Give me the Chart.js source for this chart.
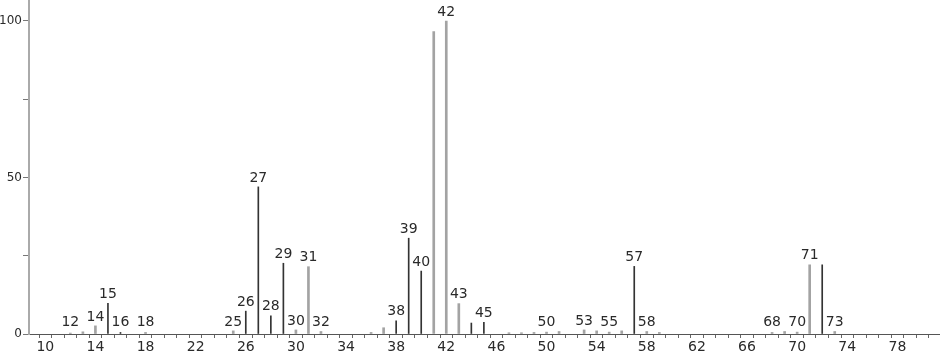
<!DOCTYPE html>
<html>
<head>
<meta charset="utf-8">
<script src="https://cdn.jsdelivr.net/npm/chart.js@4"></script>
<style>
  html, body { margin: 0; padding: 0; background: #fff; }
  #wrap { width: 940px; height: 356px; }
</style>
</head>
<body>
<div id="wrap"><canvas id="spectrum"></canvas></div>
<script>
// m/z and relative intensity, thin dark lines
const darkMz = [15, 16, 26, 27, 28, 29, 38, 39, 40, 44, 45, 57, 72];
const darkInt = [9.8, 0.5, 7.3, 47, 5.8, 22.6, 4.2, 30.6, 20.1, 3.5, 3.7, 21.6, 22.1];

// m/z and relative intensity, thick grey lines
const greyMz = [12, 13, 14, 18, 25, 30, 31, 32, 36, 37, 41, 42, 43, 47, 48, 49, 50, 51, 53, 54, 55, 56, 58, 59, 68, 69, 70, 71, 73];
const greyInt = [0.3, 0.7, 2.6, 0.5, 1.0, 1.3, 21.5, 0.8, 0.5, 2.0, 96.6, 100, 9.7, 0.4, 0.4, 0.5, 0.6, 0.8, 1.3, 1.0, 0.6, 1.0, 0.8, 0.5, 0.5, 0.8, 0.6, 22.1, 0.8];

// peaks that carry an m/z label
const labelledMz = [12, 14, 15, 16, 18, 25, 26, 27, 28, 29, 30, 31, 32, 38, 39, 40, 42, 43, 45, 50, 53, 55, 57, 58, 68, 70, 71, 73];

const yTicks = [0, 25, 50, 75, 100];
const yLabels = [0, 50, 100];
const xLabels = [10, 14, 18, 22, 26, 30, 34, 38, 42, 46, 50, 54, 58, 62, 66, 70, 74, 78];

const FONT = 'DejaVu Sans';

function toPoints(mz, vals) {
    return mz.map((m, i) => ({ x: m, y: vals[i] }));
}

function intensityAt(m) {
    let v = 0;
    darkMz.forEach((d, i) => { if (d === m) v = Math.max(v, darkInt[i]); });
    greyMz.forEach((g, i) => { if (g === m) v = Math.max(v, greyInt[i]); });
    return v;
}

const peakLabels = {
    id: 'peakLabels',
    afterDatasetsDraw(chart) {
        const ctx = chart.ctx;
        const xs = chart.scales.x, ys = chart.scales.y;
        ctx.save();
        ctx.font = '14px "' + FONT + '"';
        ctx.fillStyle = '#2a2a2a';
        ctx.textAlign = 'center';
        ctx.textBaseline = 'bottom';
        labelledMz.forEach(m => {
            const px = xs.getPixelForValue(m);
            const py = ys.getPixelForValue(intensityAt(m));
            ctx.fillText(String(m), px, Math.min(py, ys.getPixelForValue(0) - 3) - 2);
        });
        ctx.restore();
    }
};

const ctx = document.getElementById('spectrum').getContext('2d');
new Chart(ctx, {
    type: 'bar',
    data: {
        datasets: [{
            data: toPoints(greyMz, greyInt),
            backgroundColor: '#a3a3a3',
            barThickness: 2,
            grouped: false
        }, {
            data: toPoints(darkMz, darkInt),
            backgroundColor: '#333',
            barThickness: 1,
            grouped: false
        }]
    },
    options: {
        responsive: true,
        maintainAspectRatio: false,
        animation: false,
        layout: { padding: 0 },
        plugins: { legend: { display: false }, tooltip: { enabled: false } },
        scales: {
            x: {
                type: 'linear',
                offset: false,
                min: 8.7,
                max: 81.4,
                afterBuildTicks: s => { s.ticks = []; for (let v = 9; v <= 81; v++) s.ticks.push({ value: v }); },
                afterFit: s => { s.height = 22; s.paddingLeft = 0; s.paddingRight = 0; },
                border: { color: '#555', width: 1 },
                grid: { drawOnChartArea: false, drawTicks: true, tickLength: 4, color: '#666' },
                ticks: {
                    autoSkip: false,
                    maxRotation: 0,
                    padding: 1,
                    color: '#2a2a2a',
                    font: { family: FONT, size: 14 },
                    callback: v => xLabels.includes(v) ? String(v) : ''
                }
            },
            y: {
                min: 0,
                max: 106.7,
                afterBuildTicks: s => { s.ticks = yTicks.map(v => ({ value: v })); },
                afterFit: s => { s.width = 29; s.paddingTop = 0; s.paddingBottom = 0; },
                border: { color: '#aaa', width: 2 },
                grid: { drawOnChartArea: false, drawTicks: true, tickLength: 6, color: '#777' },
                ticks: {
                    padding: 1,
                    color: '#2a2a2a',
                    font: { family: FONT, size: 12 },
                    callback: v => yLabels.includes(v) ? String(v) : ''
                }
            }
        }
    },
    plugins: [peakLabels]
});
</script>
</body>
</html>
